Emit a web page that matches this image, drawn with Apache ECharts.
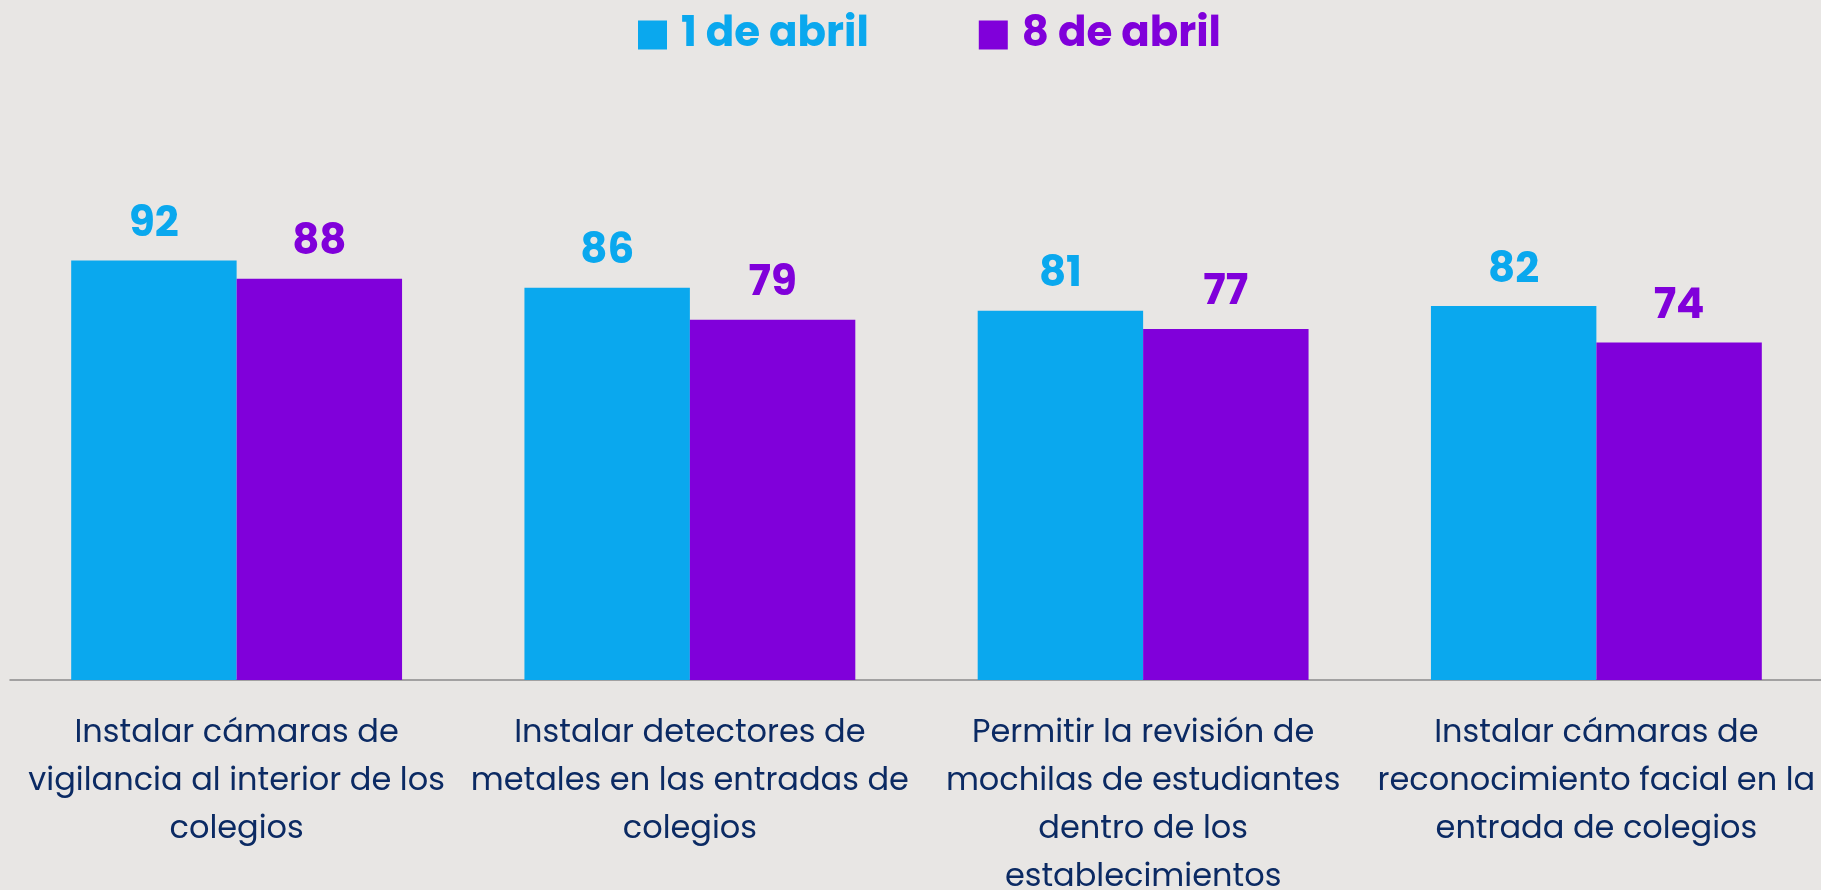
<!DOCTYPE html>
<html lang="es">
  <head>
    <meta charset="UTF-8" />
    <title>Medidas de seguridad en colegios</title>
    <script src="https://cdn.jsdelivr.net/npm/echarts@6/dist/echarts.min.js"></script>
    <style>
      html, body { margin: 0; padding: 0; background: #e8e6e4; }
      #main { width: 1821px; height: 890px; }
    </style>
  </head>
  <body>
    <div id="main"></div>
    <script type="text/javascript">
      // datos
      var categories = [
        "Instalar cámaras de\nvigilancia al interior de los\ncolegios",
        "Instalar detectores de\nmetales en las entradas de\ncolegios",
        "Permitir la revisión de\nmochilas de estudiantes\ndentro de los\nestablecimientos",
        "Instalar cámaras de\nreconocimiento facial en la\nentrada de colegios"
      ];
      var seriesNames = ["1 de abril", "8 de abril"];
      var abril1 = [92, 86, 81, 82];
      var abril8 = [88, 79, 77, 74];

      var BLUE = "#0aa8ee";
      var PURPLE = "#8000da";
      var FONT = "Poppins, 'Open Sans', sans-serif";

      var myChart = echarts.init(document.getElementById("main"));

      var option = {
        backgroundColor: "#e8e6e4",
        legend: {
          top: 14,
          left: 638,
          padding: 0,
          icon: "rect",
          itemWidth: 29,
          itemHeight: 29,
          itemGap: 110,
          data: [
            { name: seriesNames[0], textStyle: { color: BLUE } },
            { name: seriesNames[1], textStyle: { color: PURPLE } }
          ],
          textStyle: { fontFamily: FONT, fontSize: 42, fontWeight: "bold", padding: [0, 0, 0, 9] }
        },
        grid: { left: 10, right: -2, top: 224, bottom: 210, outerBoundsMode: "none", containLabel: false },
        xAxis: {
          type: "category",
          data: categories,
          axisTick: { show: false },
          axisLine: { lineStyle: { color: "#8a8a8a", width: 1.5 } },
          axisLabel: {
            interval: 0,
            margin: 30,
            color: "#0b2a63",
            fontFamily: FONT,
            fontSize: 32,
            lineHeight: 48
          }
        },
        yAxis: {
          type: "value",
          min: 0,
          max: 100,
          show: false,
          splitLine: { show: false }
        },
        series: [
          {
            name: seriesNames[0],
            type: "bar",
            data: abril1,
            barGap: "0%",
            barCategoryGap: "27%",
            itemStyle: { color: BLUE },
            label: {
              show: true,
              position: "top",
              distance: 14,
              color: BLUE,
              fontFamily: FONT,
              fontSize: 42,
              fontWeight: "bold"
            }
          },
          {
            name: seriesNames[1],
            type: "bar",
            data: abril8,
            itemStyle: { color: PURPLE },
            label: {
              show: true,
              position: "top",
              distance: 14,
              color: PURPLE,
              fontFamily: FONT,
              fontSize: 42,
              fontWeight: "bold"
            }
          }
        ]
      };
      myChart.setOption(option);
    </script>
  </body>
</html>
